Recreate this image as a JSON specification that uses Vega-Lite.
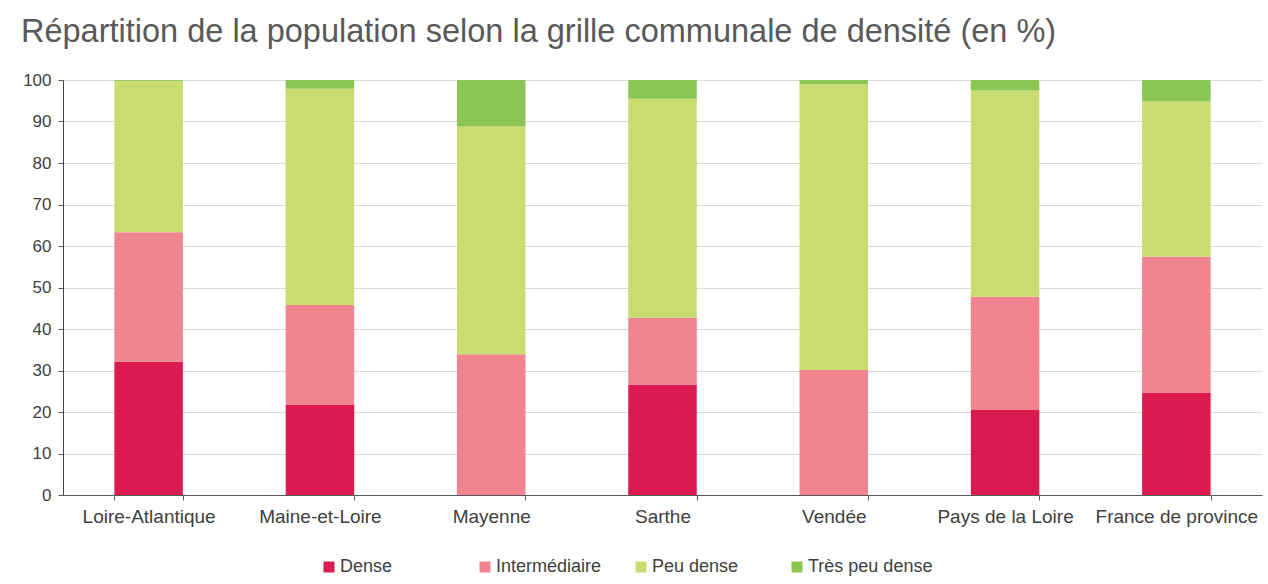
{
  "$schema": "https://vega.github.io/schema/vega-lite/v6.json",
  "width": 1199,
  "height": 415,
  "autosize": {"type": "none"},
  "padding": {"left": 63, "top": 80, "right": 6, "bottom": 89},
  "background": "white",
  "title": {
    "text": "Répartition de la population selon la grille communale de densité (en %)",
    "anchor": "start",
    "frame": "group",
    "dx": -42,
    "offset": 23,
    "font": "Liberation Sans",
    "fontSize": 32.5,
    "fontWeight": "normal",
    "color": "#595959"
  },
  "data": {
    "values": [
      {"region": "Loire-Atlantique", "classe": "Dense", "pct": 32.1},
      {"region": "Loire-Atlantique", "classe": "Intermédiaire", "pct": 31.2},
      {"region": "Loire-Atlantique", "classe": "Peu dense", "pct": 36.5},
      {"region": "Loire-Atlantique", "classe": "Très peu dense", "pct": 0.2},
      {"region": "Maine-et-Loire", "classe": "Dense", "pct": 21.8},
      {"region": "Maine-et-Loire", "classe": "Intermédiaire", "pct": 24.0},
      {"region": "Maine-et-Loire", "classe": "Peu dense", "pct": 52.1},
      {"region": "Maine-et-Loire", "classe": "Très peu dense", "pct": 2.1},
      {"region": "Mayenne", "classe": "Dense", "pct": 0},
      {"region": "Mayenne", "classe": "Intermédiaire", "pct": 33.9},
      {"region": "Mayenne", "classe": "Peu dense", "pct": 54.9},
      {"region": "Mayenne", "classe": "Très peu dense", "pct": 11.2},
      {"region": "Sarthe", "classe": "Dense", "pct": 26.6},
      {"region": "Sarthe", "classe": "Intermédiaire", "pct": 16.1},
      {"region": "Sarthe", "classe": "Peu dense", "pct": 52.8},
      {"region": "Sarthe", "classe": "Très peu dense", "pct": 4.5},
      {"region": "Vendée", "classe": "Dense", "pct": 0},
      {"region": "Vendée", "classe": "Intermédiaire", "pct": 30.1},
      {"region": "Vendée", "classe": "Peu dense", "pct": 68.9},
      {"region": "Vendée", "classe": "Très peu dense", "pct": 1.0},
      {"region": "Pays de la Loire", "classe": "Dense", "pct": 20.5},
      {"region": "Pays de la Loire", "classe": "Intermédiaire", "pct": 27.3},
      {"region": "Pays de la Loire", "classe": "Peu dense", "pct": 49.7},
      {"region": "Pays de la Loire", "classe": "Très peu dense", "pct": 2.5},
      {"region": "France de province", "classe": "Dense", "pct": 24.6},
      {"region": "France de province", "classe": "Intermédiaire", "pct": 32.9},
      {"region": "France de province", "classe": "Peu dense", "pct": 37.3},
      {"region": "France de province", "classe": "Très peu dense", "pct": 5.2}
    ]
  },
  "mark": {"type": "bar"},
  "encoding": {
    "x": {
      "field": "region",
      "type": "nominal",
      "sort": ["Loire-Atlantique", "Maine-et-Loire", "Mayenne", "Sarthe", "Vendée", "Pays de la Loire", "France de province"],
      "scale": {"paddingInner": 0.6, "paddingOuter": 0.3},
      "axis": {
        "title": null,
        "labelAngle": 0,
        "tickBand": "extent",
        "labelFont": "Liberation Sans",
        "labelFontSize": 19,
        "labelColor": "#404040",
        "labelPadding": 7,
        "tickSize": 5,
        "tickColor": "#595959",
        "domainColor": "#595959",
        "grid": false
      }
    },
    "y": {
      "field": "pct",
      "type": "quantitative",
      "stack": "zero",
      "scale": {"domain": [0, 100], "nice": false},
      "axis": {
        "title": null,
        "values": [0, 10, 20, 30, 40, 50, 60, 70, 80, 90, 100],
        "labelFont": "Liberation Sans",
        "labelFontSize": 17,
        "labelColor": "#404040",
        "labelPadding": 7,
        "tickSize": 5,
        "tickColor": "#595959",
        "domainColor": "#404040",
        "gridColor": "#d9d9d9",
        "gridWidth": 1
      }
    },
    "color": {
      "field": "classe",
      "type": "nominal",
      "scale": {
        "domain": ["Dense", "Intermédiaire", "Peu dense", "Très peu dense"],
        "range": ["#DB1A4F", "#F0848F", "#C9DC70", "#8BC653"]
      },
      "legend": {
        "title": null,
        "orient": "none",
        "direction": "horizontal",
        "legendX": 257,
        "legendY": 478,
        "columns": 4,
        "gridAlign": "all",
        "columnPadding": 11,
        "symbolType": "square",
        "symbolSize": 121,
        "symbolStrokeWidth": 0,
        "labelFont": "Liberation Sans",
        "labelFontSize": 18,
        "labelColor": "#404040",
        "labelOffset": 2
      }
    },
    "order": {"field": "classe", "sort": "ascending"}
  },
  "config": {
    "view": {"stroke": null},
    "axis": {"domainWidth": 1, "tickWidth": 1}
  }
}
